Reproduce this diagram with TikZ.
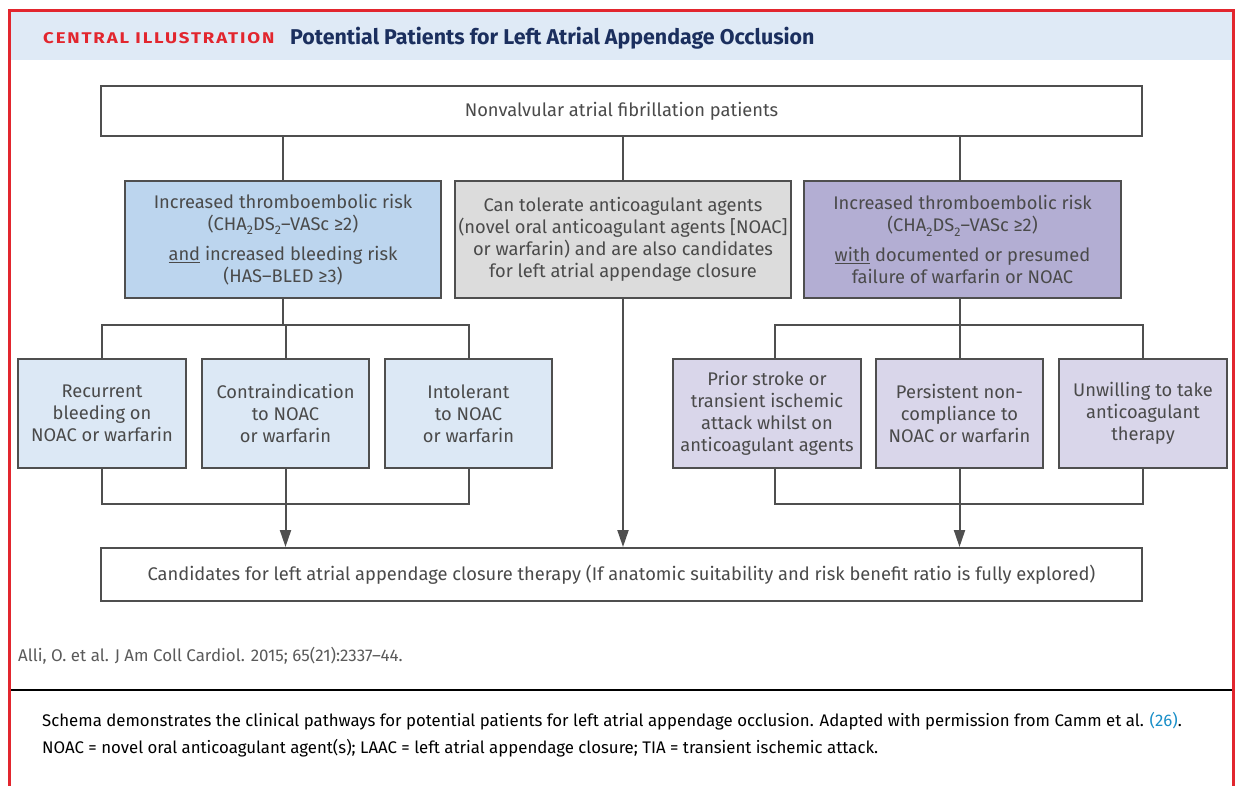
\documentclass[tikz,border=0pt]{standalone}
\usepackage{fontspec}
\setmainfont{Fira Sans}
\usetikzlibrary{arrows.meta}
\definecolor{framered}{HTML}{E2262E}
\definecolor{headbg}{HTML}{DFEAF6}
\definecolor{navy}{HTML}{1B2F5E}
\definecolor{linec}{HTML}{4F4F4F}
\definecolor{textc}{HTML}{4A4A4A}
\definecolor{bluebox}{HTML}{BCD5EE}
\definecolor{greybox}{HTML}{DCDCDC}
\definecolor{purplebox}{HTML}{B3AED3}
\definecolor{lightblue}{HTML}{DCE8F5}
\definecolor{lightpurple}{HTML}{D9D6EA}
\definecolor{citec}{HTML}{5A5A5A}
\definecolor{linkc}{HTML}{1A8FC8}
\newcommand{\boxfont}{\fontsize{18.3}{22}\selectfont}
\newcommand{\lowtwo}{\raisebox{-4.5pt}{\fontsize{12.5}{12.5}\selectfont 2}}
\newcommand{\chads}{(CHA\lowtwo DS\lowtwo–VASc ≥2)}
\tikzset{
  box/.style={draw=linec, line width=2pt, text=textc, align=center, inner sep=0pt, font=\boxfont},
  conn/.style={draw=linec, line width=2pt},
  arr/.style={conn, -{Triangle[width=11pt,length=17pt]}},
}
\begin{document}
\begin{tikzpicture}[x=1pt,y=-1pt]
\useasboundingbox (0,0) rectangle (1238,785);
\fill[white] (0,0) rectangle (1238,785);
% header
\fill[headbg] (11,12) rectangle (1232,60);
\draw[framered, line width=3.5pt] (9.5,786) -- (9.5,10.5) -- (1233.5,10.5) -- (1233.5,786);
\node[anchor=west, inner sep=0pt, text=framered, font=\fontsize{15.5}{17}\selectfont\bfseries\addfontfeature{FakeStretch=1.2,LetterSpace=12}] (ct) at (43,38) {CENTRAL ILLUSTRATION};
\node[anchor=west, inner sep=0pt, text=navy, font=\fontsize{21.4}{24}\selectfont\bfseries] (tt) at (290,38) {Potential Patients for Left Atrial Appendage Occlusion};
% boxes
\node[box, minimum width=1041pt, minimum height=50pt] (top) at (621.5,111) {Nonvalvular atrial fibrillation patients};
\node[box, fill=bluebox, minimum width=316pt, minimum height=117pt] (L) at (283,239.5)
  {Increased thromboembolic risk\\ \chads\\[8pt] \underline{and} increased bleeding risk\\ (HAS–BLED ≥3)};
\node[box, fill=greybox, minimum width=336pt, minimum height=117pt] (M) at (623,239.5)
  {Can tolerate anticoagulant agents\\ (novel oral anticoagulant agents [NOAC]\\ or warfarin) and are also candidates\\ for left atrial appendage closure};
\node[box, fill=purplebox, minimum width=317pt, minimum height=117pt] (R) at (962.5,239.5)
  {Increased thromboembolic risk\\ \chads\\[8pt] \underline{with} documented or presumed\\ failure of warfarin or NOAC};
\node[box, fill=lightblue, minimum width=168pt, minimum height=109pt] (A1) at (102,413.5) {Recurrent\\ bleeding on\\ NOAC or warfarin};
\node[box, fill=lightblue, minimum width=167pt, minimum height=109pt] (A2) at (285.5,413.5) {Contraindication\\ to NOAC\\ or warfarin};
\node[box, fill=lightblue, minimum width=167pt, minimum height=109pt] (A3) at (468.5,413.5) {Intolerant\\ to NOAC\\ or warfarin};
\node[box, fill=lightpurple, minimum width=188pt, minimum height=109pt] (B1) at (767,413.5) {Prior stroke or\\ transient ischemic\\ attack whilst on\\ anticoagulant agents};
\node[box, fill=lightpurple, minimum width=167pt, minimum height=109pt] (B2) at (959.5,413.5) {Persistent non-\\ compliance to\\ NOAC or warfarin};
\node[box, fill=lightpurple, minimum width=168pt, minimum height=109pt] (B3) at (1143,413.5) {Unwilling to take\\ anticoagulant\\ therapy};
\node[box, minimum width=1041pt, minimum height=53pt] (bot) at (621.5,574.5)
  {Candidates for left atrial appendage closure therapy (If anatomic suitability and risk benefit ratio is fully explored)};
% connectors
\coordinate (jL) at (283,325);
\coordinate (jR) at (959.5,325);
\coordinate (kL) at (285,504);
\coordinate (kR) at (959.5,504);
\coordinate (b1x) at (775,0);
\draw[conn] (top.south -| L.north) -- (L.north);
\draw[conn] (top.south -| M.north) -- (M.north);
\draw[conn] (top.south -| B2.north) -- (B2.north |- R.north);
\draw[conn] (L.south) -- (jL);
\draw[conn] (A1.north) -- (A1.north |- jL) -- (A3.north |- jL) -- (A3.north);
\draw[conn] (A2.north |- jL) -- (A2.north);
\draw[conn] (B2.north |- R.south) -- (jR);
\draw[conn] (b1x |- B1.north) -- (b1x |- jR) -- (B3.north |- jR) -- (B3.north);
\draw[conn] (jR) -- (B2.north);
\draw[conn] (A1.south) -- (A1.south |- kL) -- (A3.south |- kL) -- (A3.south);
\draw[arr] (A2.south) -- (A2.south |- bot.north);
\draw[conn] (b1x |- B1.south) -- (b1x |- kR) -- (B3.south |- kR) -- (B3.south);
\draw[arr] (B2.south) -- (B2.south |- bot.north);
\draw[arr] (M.south) -- (M.south |- bot.north);
% footer
\node[anchor=west, inner sep=0pt, text=citec, font=\fontsize{16.9}{18}\selectfont] (cite) at (18,656) {Alli, O. et al. J Am Coll Cardiol. 2015; 65(21):2337–44.};
\coordinate (s1) at (11,690);
\coordinate (s2) at (1232,690);
\draw[black, line width=1.3pt] (s1) -- (s2);
\node[anchor=west, inner sep=0pt, font=\fontsize{16.8}{18}\selectfont] (cap1) at (42,721) {Schema demonstrates the clinical pathways for potential patients for left atrial appendage occlusion. Adapted with permission from Camm et al. \textcolor{linkc}{(26)}.};
\node[anchor=west, inner sep=0pt, font=\fontsize{16.8}{18}\selectfont] (cap2) at (42,748) {NOAC = novel oral anticoagulant agent(s); LAAC = left atrial appendage closure; TIA = transient ischemic attack.};
\end{tikzpicture}
\end{document}
